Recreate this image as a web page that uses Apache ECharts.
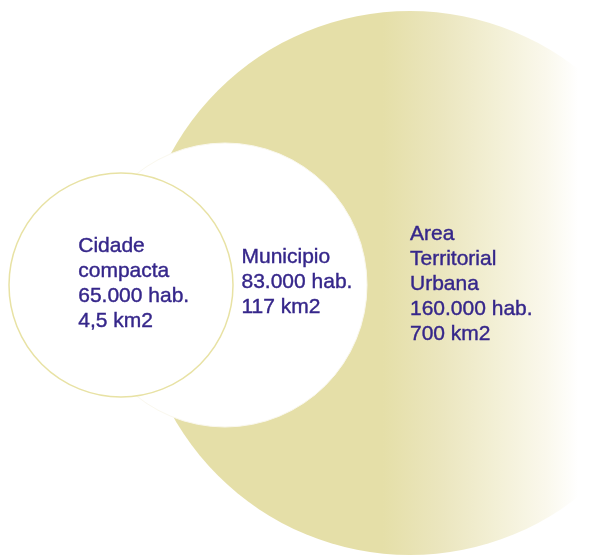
<!DOCTYPE html>
<html>
<head>
<meta charset="utf-8">
<script src="https://cdn.jsdelivr.net/npm/echarts@6/dist/echarts.min.js"></script>
<style>
    html, body { margin: 0; padding: 0; background: #ffffff; }
    #chart { width: 599px; height: 560px; }
</style>
</head>
<body>
<div id="chart"></div>
<script>
// data
const names = ["Area\nTerritorial\nUrbana", "Municipio", "Cidade\ncompacta"];
const population = ["160.000", "83.000", "65.000"];
const area = ["700", "117", "4,5"];

// diagram layout (chart units, y grows downward)
const centerX = [410, 225, 121];
const centerY = [283, 285, 285];
const radius = [272, 142, 112];

const textColor = "#35268a";
const tan = "#e5dfa8";

// label placement relative to each circle's box
const labelPos = [[272, 211], [159, 102], [70, 61]];

const styles = [
    {
        opacity: 1,
        color: new echarts.graphic.LinearGradient(0, 0, 1, 0, [
            {offset: 0, color: tan},
            {offset: 0.45, color: tan},
            {offset: 0.56, color: "#ebe6bf"},
            {offset: 0.66, color: "#f3f0d6"},
            {offset: 0.75, color: "#faf8ec"},
            {offset: 0.81, color: "#ffffff"},
            {offset: 1, color: "#ffffff"}
        ])
    },
    {opacity: 1, color: "#ffffff", borderColor: "#faf8ee", borderWidth: 1},
    {opacity: 1, color: "#ffffff", borderColor: "#e8e2a4", borderWidth: 1.5}
];

const chart = echarts.init(document.getElementById("chart"), null, {renderer: "canvas"});

let seriesData = names.map(function (name, i) {
    return {
        name: name,
        value: [centerX[i], centerY[i]],
        symbolSize: radius[i] * 2,
        itemStyle: styles[i],
        label: {
            show: true,
            position: labelPos[i],
            align: "left",
            verticalAlign: "top",
            formatter: name + "\n" + population[i] + " hab.\n" + area[i] + " km2"
        }
    };
});

chart.setOption({
    backgroundColor: "#ffffff",
    animation: false,
    grid: {left: 0, right: 0, top: 0, bottom: 0},
    xAxis: {type: "value", min: 0, max: 599, show: false},
    yAxis: {type: "value", min: 0, max: 560, inverse: true, show: false},
    series: [{
        type: "scatter",
        symbol: "circle",
        silent: true,
        data: seriesData,
        label: {
            color: textColor,
            fontFamily: "Liberation Sans",
            fontSize: 21,
            lineHeight: 25,
            textBorderColor: textColor,
            textBorderWidth: 0.4
        }
    }]
});
</script>
</body>
</html>
